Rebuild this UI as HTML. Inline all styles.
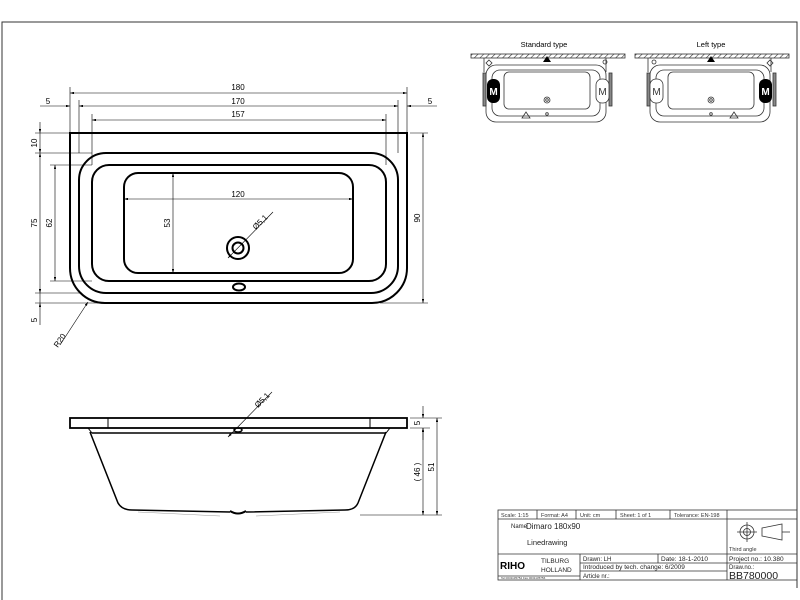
<!DOCTYPE html>
<html><head><style>
html,body{margin:0;padding:0;background:#fff}
svg{display:block;font-family:"Liberation Sans",sans-serif}
</style></head><body>
<svg width="800" height="600" viewBox="0 0 800 600" xmlns="http://www.w3.org/2000/svg">
<defs>
<marker id="a" viewBox="0 0 10 6" refX="10" refY="3" markerWidth="8" markerHeight="4" orient="auto-start-reverse"><path d="M0,0L10,3L0,6z" fill="#000"/></marker>
<pattern id="h" width="4" height="4" patternUnits="userSpaceOnUse" patternTransform="rotate(45)"><line x1="0" y1="0" x2="0" y2="4" stroke="#333" stroke-width="1.2"/></pattern>
</defs>
<rect x="0" y="0" width="800" height="600" fill="#fff"/>
<!-- frame -->
<path d="M2,600V22H797V588" fill="none" stroke="#333" stroke-width="1"/>

<!-- TOP VIEW -->
<g fill="none" stroke="#000" stroke-width="2">
<path d="M70,133H407V268A35,35 0 0 1 372,303H105A35,35 0 0 1 70,268Z"/>
<rect x="79" y="153" width="319" height="140" rx="27"/>
<rect x="92" y="165" width="294" height="116" rx="17"/>
<rect x="124" y="173" width="229" height="100" rx="14"/>
<circle cx="238" cy="248" r="11"/>
<circle cx="238" cy="248" r="5.5"/>
<ellipse cx="239" cy="287" rx="6" ry="3.5"/>
</g>
<g stroke="#000" stroke-width="0.6" fill="none">
<line x1="70" y1="87" x2="70" y2="133"/><line x1="407" y1="87" x2="407" y2="133"/>
<line x1="79" y1="100" x2="79" y2="153"/><line x1="398" y1="100" x2="398" y2="153"/>
<line x1="92" y1="114" x2="92" y2="165"/><line x1="386" y1="114" x2="386" y2="165"/>
<line x1="35" y1="133" x2="70" y2="133"/><line x1="410" y1="133" x2="428" y2="133"/>
<line x1="35" y1="153" x2="92" y2="153"/>
<line x1="50" y1="165" x2="92" y2="165"/>
<line x1="50" y1="281" x2="92" y2="281"/>
<line x1="35" y1="293" x2="82" y2="293"/>
<line x1="35" y1="303" x2="100" y2="303"/><line x1="380" y1="303" x2="428" y2="303"/>
<line x1="70" y1="93" x2="407" y2="93" marker-start="url(#a)" marker-end="url(#a)"/>
<line x1="79" y1="106" x2="398" y2="106" marker-start="url(#a)" marker-end="url(#a)"/>
<line x1="40" y1="106" x2="70" y2="106" marker-end="url(#a)"/>
<line x1="437" y1="106" x2="407" y2="106" marker-end="url(#a)"/>
<line x1="92" y1="120" x2="386" y2="120" marker-start="url(#a)" marker-end="url(#a)"/>
<line x1="124" y1="199" x2="353" y2="199" marker-start="url(#a)" marker-end="url(#a)"/>
<line x1="173" y1="173" x2="173" y2="273" marker-start="url(#a)" marker-end="url(#a)"/>
<line x1="423" y1="133" x2="423" y2="303" marker-start="url(#a)" marker-end="url(#a)"/>
<line x1="40" y1="122" x2="40" y2="133" marker-end="url(#a)"/>
<line x1="40" y1="133" x2="40" y2="153" marker-end="url(#a)"/>
<line x1="40" y1="153" x2="40" y2="293" marker-start="url(#a)" marker-end="url(#a)"/>
<line x1="40" y1="293" x2="40" y2="303"/>
<line x1="40" y1="325" x2="40" y2="303" marker-end="url(#a)"/>
<line x1="55" y1="165" x2="55" y2="281" marker-start="url(#a)" marker-end="url(#a)"/>
<line x1="273" y1="212" x2="228" y2="258" marker-end="url(#a)"/>
<line x1="60" y1="345" x2="88" y2="302" marker-end="url(#a)"/>
</g>
<g font-size="8" fill="#000" text-anchor="middle">
<text x="238" y="90">180</text><text x="238" y="104">170</text><text x="238" y="117">157</text>
<text x="238" y="197">120</text>
<text x="48" y="104">5</text><text x="430" y="104">5</text>
<text transform="translate(170,223) rotate(-90)">53</text>
<text transform="translate(420,218) rotate(-90)">90</text>
<text transform="translate(37,223) rotate(-90)">75</text>
<text transform="translate(52,223) rotate(-90)">62</text>
<text transform="translate(37,143) rotate(-90)">10</text>
<text transform="translate(37,320) rotate(-90)">5</text>
<text transform="translate(262,224) rotate(-45)">Ø5,1</text>
<text transform="translate(62,342) rotate(-55)">R20</text>
</g>

<!-- SIDE VIEW -->
<g fill="none" stroke="#000">
<rect x="70" y="418" width="337" height="10" stroke-width="1.8"/>
<line x1="108" y1="418" x2="108" y2="428" stroke-width="1"/>
<line x1="370" y1="418" x2="370" y2="428" stroke-width="1"/>
<path d="M88,428L92,433H386L390,428" stroke-width="1"/>
<line x1="92" y1="433" x2="386" y2="433" stroke-width="1.5"/>
<path d="M90,432L118,503Q122,510 132,510L230,512M246,512L345,510Q355,510 358,503L386,432" stroke-width="1.5"/>
<path d="M230,511Q238,516 246,511" stroke-width="2"/>
<path d="M138,512L220,516M256,516L340,512" stroke="#999" stroke-width="0.6"/>
<ellipse cx="238" cy="430" rx="4" ry="2" stroke-width="1.5"/>
</g>
<g stroke="#000" stroke-width="0.6" fill="none">
<line x1="410" y1="418" x2="442" y2="418"/><line x1="410" y1="428" x2="430" y2="428"/>
<line x1="360" y1="515" x2="442" y2="515"/>
<line x1="423" y1="406" x2="423" y2="418" marker-end="url(#a)"/>
<line x1="423" y1="440" x2="423" y2="428" marker-end="url(#a)"/>
<line x1="423" y1="428" x2="423" y2="515" marker-start="url(#a)" marker-end="url(#a)"/>
<line x1="437" y1="418" x2="437" y2="515" marker-start="url(#a)" marker-end="url(#a)"/>
<line x1="272" y1="392" x2="228" y2="437" marker-end="url(#a)"/>
</g>
<g font-size="8" fill="#000" text-anchor="middle">
<text transform="translate(264,402) rotate(-45)">Ø5,1</text>
<text transform="translate(420,423) rotate(-90)">5</text>
<text transform="translate(420,472) rotate(-90)">( 46 )</text>
<text transform="translate(434,467) rotate(-90)">51</text>
</g>

<!-- TOP RIGHT DIAGRAMS -->
<g font-size="7.5" fill="#000" text-anchor="middle">
<text x="544" y="47">Standard type</text><text x="711" y="47">Left type</text>
</g>
<g stroke="#333" stroke-width="0.8" fill="none">
<rect x="471" y="54" width="154" height="4" fill="url(#h)"/>
<rect x="635" y="54" width="154" height="4" fill="url(#h)"/>
<path d="M484,58V72M606,58V72"/>
<rect x="486" y="65" width="120" height="57" rx="10"/>
<rect x="492" y="70" width="108" height="46" rx="8"/>
<rect x="504" y="72" width="86" height="37" rx="5"/>
<circle cx="547" cy="100" r="3"/><circle cx="547" cy="100" r="1.3"/>
<circle cx="547" cy="114" r="1.3"/>
<path d="M522,118L526,112L530,118Z"/>
<path d="M489,60L492,63L489,66L486,63Z"/><circle cx="605" cy="62" r="2"/>
<rect x="483" y="73" width="3" height="33" fill="#888"/>
<rect x="609" y="73" width="3" height="33" fill="#888"/>
<path d="M648,58V72M771,58V72"/>
<rect x="650" y="65" width="120" height="57" rx="10"/>
<rect x="656" y="70" width="108" height="46" rx="8"/>
<rect x="668" y="72" width="86" height="37" rx="5"/>
<circle cx="711" cy="100" r="3"/><circle cx="711" cy="100" r="1.3"/>
<circle cx="711" cy="114" r="1.3"/>
<path d="M730,118L734,112L738,118Z"/>
<path d="M770,60L773,63L770,66L767,63Z"/><circle cx="654" cy="62" r="2"/>
<rect x="647" y="73" width="3" height="33" fill="#888"/>
<rect x="773" y="73" width="3" height="33" fill="#888"/>
</g>
<path d="M543,62L547,56L551,62Z" fill="#000"/>
<path d="M707,62L711,56L715,62Z" fill="#000"/>
<rect x="487" y="79" width="13" height="24" rx="6" fill="#000"/>
<rect x="596" y="79" width="13" height="24" rx="6" fill="#fff" stroke="#333" stroke-width="0.8"/>
<rect x="650" y="79" width="13" height="24" rx="6" fill="#fff" stroke="#333" stroke-width="0.8"/>
<rect x="759" y="79" width="13" height="24" rx="6" fill="#000"/>
<g font-size="10" font-weight="bold" text-anchor="middle">
<text x="493.5" y="95" fill="#fff">M</text><text x="602.5" y="95" fill="#333" font-weight="normal">M</text>
<text x="656.5" y="95" fill="#333" font-weight="normal">M</text><text x="765.5" y="95" fill="#fff">M</text>
</g>

<!-- TITLE BLOCK -->
<g stroke="#333" stroke-width="0.8" fill="none">
<rect x="498" y="510" width="299" height="70"/>
<line x1="498" y1="519" x2="797" y2="519"/>
<line x1="498" y1="554" x2="797" y2="554"/>
<line x1="580" y1="563" x2="727" y2="563"/>
<line x1="580" y1="571" x2="727" y2="571"/>
<line x1="727" y1="563" x2="797" y2="563"/>
<line x1="498" y1="576" x2="580" y2="576"/>
<line x1="580" y1="554" x2="580" y2="580"/>
<line x1="658" y1="554" x2="658" y2="563"/>
<line x1="727" y1="519" x2="727" y2="580"/>
<line x1="537" y1="510" x2="537" y2="519"/><line x1="576" y1="510" x2="576" y2="519"/>
<line x1="616" y1="510" x2="616" y2="519"/><line x1="670" y1="510" x2="670" y2="519"/>
<line x1="727" y1="510" x2="727" y2="519"/>
<circle cx="747" cy="532" r="7"/><circle cx="747" cy="532" r="3.5"/>
<line x1="737" y1="532" x2="757" y2="532"/><line x1="747" y1="522" x2="747" y2="542"/>
<path d="M762,528L782,524V540L762,536Z"/><line x1="782" y1="532" x2="790" y2="532"/>
</g>
<g font-size="5.5" fill="#333">
<text x="501" y="517">Scale: 1:15</text><text x="541" y="517">Format:  A4</text>
<text x="580" y="517">Unit: cm</text><text x="620" y="517">Sheet:   1 of 1</text>
<text x="674" y="517">Tolerance:  EN-198</text>
<text x="729" y="551">Third angle</text>
<text x="501" y="579" font-size="3">Tel 0031135752 Fax 0031135756</text>
</g>
<g font-size="7" fill="#222">
<text x="511" y="528" font-size="6">Name</text><text x="526" y="529" font-size="8">Dimaro 180x90</text>
<text x="527" y="545" font-size="7.5">Linedrawing</text>
<text x="583" y="561" font-size="6">Drawn:   LH</text>
<text x="661" y="561" font-size="6.5">Date:   18-1-2010</text>
<text x="583" y="569" font-size="6.5">Introduced by tech. change: 6/2009</text>
<text x="583" y="578" font-size="6">Article nr.:</text>
<text x="729" y="561" font-size="6.5">Project no.:  10.380</text>
<text x="729" y="569" font-size="6">Draw.no.:</text>
<text x="729" y="579" font-size="10.5">BB780000</text>
<text x="500" y="569" font-size="10" font-weight="bold" fill="#000">RIHO</text>
<text x="541" y="563" font-size="6.5">TILBURG</text>
<text x="541" y="572" font-size="6.5">HOLLAND</text>
</g>
</svg>
</body></html>
